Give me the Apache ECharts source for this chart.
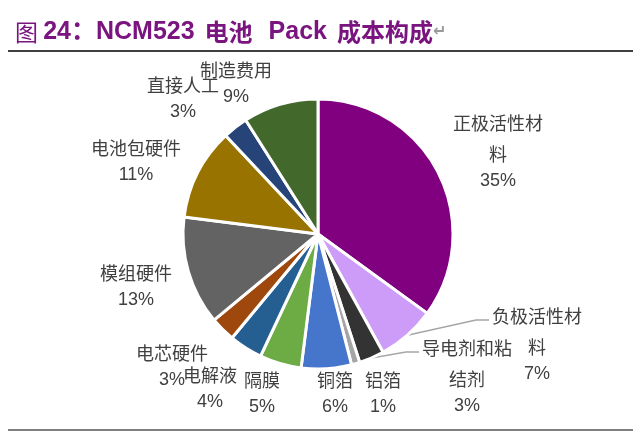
<!DOCTYPE html>
<html>
<head>
<meta charset="utf-8">
<script src="https://cdn.jsdelivr.net/npm/echarts@6/dist/echarts.min.js"></script>
<style>
html,body{margin:0;padding:0;background:#fff;}
#chart{width:640px;height:432px;}
</style>
</head>
<body>
<div id="chart"></div>
<script>
// ---- data ----
var categories = ['正极活性材料','负极活性材料','导电剂和粘结剂','铝箔','铜箔','隔膜','电解液','电芯硬件','模组硬件','电池包硬件','直接人工','制造费用'];
var values = [35, 7, 3, 1, 6, 5, 4, 3, 13, 11, 3, 9];
var colors = ['#800080','#CC9CF8','#333333','#A5A5A5','#4675CC','#6DAB45','#255E91','#9E480E','#636363','#997300','#264478','#43682B'];
var leaderLabels = ['负极活性材料','导电剂和粘结剂'];

// ---- layout ----
var CX = 318, CY = 234, R = 135;
// first-line centre of each label, as offset from pie centre
var labelOffsets = [
  [180,-109],[219,84],[149,116],[65,148],[17,148],[-56,148],
  [-108,143],[-146,121],[-182,41],[-182,-84],[-135,-147],[-82,-162]
];
var FIRST_LH_WRAP = 38, LH = 25;

function splitName(n){
  var out = [];
  for (var i = 0; i < n.length; i += 5) out.push(n.slice(i, i + 5));
  return out;
}

var total = values.reduce(function(a,b){return a+b;},0);
var midAngles = [];
(function(){
  var acc = 0;
  for (var i=0;i<values.length;i++){
    midAngles.push((acc + values[i]/2)/total*2*Math.PI);
    acc += values[i];
  }
})();

var seriesData = categories.map(function(c,i){
  var item = {name:c, value:values[i], itemStyle:{color:colors[i]}};
  if (leaderLabels.indexOf(c) >= 0) {
    item.labelLine = {show:true, lineStyle:{color:'#A6A6A6', width:1.5}};
  }
  return item;
});

var chart = echarts.init(document.getElementById('chart'), null, {renderer:'canvas'});
var option = {
  backgroundColor:'#fff',
  animation:false,
  title:{
    left:10, top:12,
    text:'{a|图 }{b|24：NCM523}{s|}{c|电池}{s2|}{b|Pack}{s|}{c|成本构成}{d|↵}',
    textStyle:{
      rich:{
        a:{fontFamily:'Noto Sans CJK SC', fontSize:23, fontWeight:'normal', color:'#7A1580', lineHeight:30},
        b:{fontFamily:'Liberation Sans, Arial, Noto Sans CJK SC', fontSize:25, fontWeight:'bold', color:'#7A1580', lineHeight:30},
        c:{fontFamily:'Noto Sans CJK SC', fontSize:24, fontWeight:'bold', color:'#7A1580', lineHeight:30},
        s:{width:10, lineHeight:30},
        s2:{width:16, lineHeight:30},
        d:{fontFamily:'DejaVu Sans', fontSize:16, color:'#9A9A9A', lineHeight:30}
      }
    }
  },
  graphic:[
    {type:'line', shape:{x1:8,y1:51,x2:633,y2:51}, style:{stroke:'#000', lineWidth:1.5}},
    {type:'line', shape:{x1:8,y1:430,x2:633,y2:430}, style:{stroke:'#000', lineWidth:1.2}}
  ],
  series:[{
    type:'pie',
    center:[CX, CY],
    radius:R,
    startAngle:90,
    clockwise:true,
    avoidLabelOverlap:false,
    itemStyle:{borderColor:'#fff', borderWidth:3},
    label:{
      show:true,
      position:'outside',
      color:'#404040',
      fontFamily:'Liberation Sans, Arial, Noto Sans CJK SC',
      fontSize:18,
      formatter:function(p){
        var lines = splitName(p.name);
        var pct = Math.round(p.percent) + '%';
        if (lines.length > 1) {
          return '{f|' + lines[0] + '}\n{n|' + lines.slice(1).join('\n') + '}\n{n|' + pct + '}';
        }
        return '{n|' + lines[0] + '}\n{n|' + pct + '}';
      },
      rich:{
        f:{fontSize:18, lineHeight:FIRST_LH_WRAP, color:'#404040', fontFamily:'Liberation Sans, Arial, Noto Sans CJK SC'},
        n:{fontSize:18, lineHeight:LH, color:'#404040', fontFamily:'Liberation Sans, Arial, Noto Sans CJK SC'}
      }
    },
    labelLine:{show:false},
    labelLayout:function(params){
      var i = params.dataIndex;
      var wrap = splitName(categories[i]).length > 1;
      var firstLH = wrap ? FIRST_LH_WRAP : LH;
      var x = CX + labelOffsets[i][0];
      var firstY = CY + labelOffsets[i][1];
      var top = firstY - firstLH/2;
      var res = {x:x, y:top, align:'center', verticalAlign:'top'};
      if (leaderLabels.indexOf(categories[i]) >= 0) {
        var a = midAngles[i];
        var p0 = [CX + R*Math.sin(a), CY - R*Math.cos(a)];
        var endX = x - params.labelRect.width/2 - 3;
        var p2 = [endX, firstY + 2];
        var p1 = [endX - 13, firstY + 2];
        res.labelLinePoints = [p0, p1, p2];
      }
      return res;
    },
    data:seriesData
  }]
};
chart.setOption(option);
</script>
</body>
</html>
